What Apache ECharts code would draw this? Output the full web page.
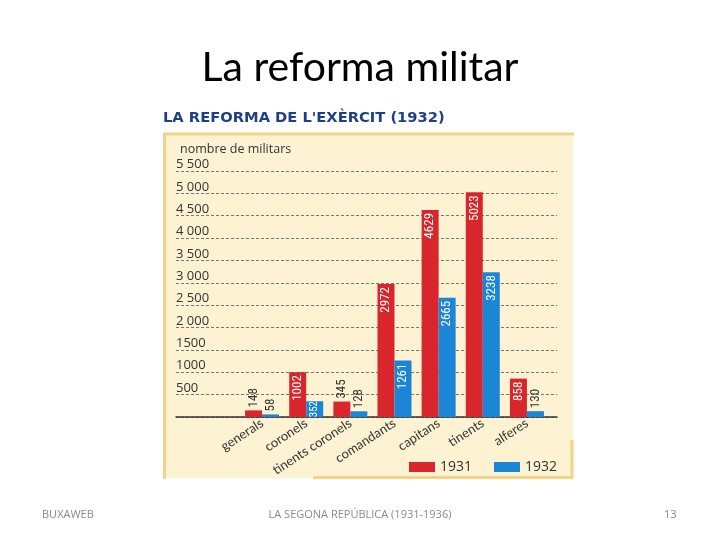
<!DOCTYPE html>
<html>
<head>
<meta charset="utf-8">
<script src="https://cdn.jsdelivr.net/npm/echarts@6/dist/echarts.min.js"></script>
<style>
  html, body { margin: 0; padding: 0; background: #fff; }
  #chart { width: 720px; height: 540px; }
</style>
</head>
<body>
<div id="chart"></div>
<script>
// ranks of the army
const categories = ['generals', 'coronels', 'tinents coronels', 'comandants', 'capitans', 'tinents', 'alferes']
const values1931 = [148, 1002, 345, 2972, 4629, 5023, 858]
const values1932 = [58, 352, 128, 1261, 2665, 3238, 130]
const yTickLabels = ['', '500', '1000', '1500', '2 000', '2 500', '3 000', '3 500', '4 000', '4 500', '5 000', '5 500']

const red = '#d8262c'
const blue = '#1b86d5'
const border = '#f4d387'
const labelFont = '"Liberation Sans Narrow", "Roboto Condensed", "Roboto", sans-serif'

// small values get their label above the bar, short bars centre it, the rest at the top inside
function barData(values) {
  return values.map(function (v) {
    if (v < 350) {
      return { value: v, label: { position: 'top', distance: 3, align: 'left', color: '#333' } }
    }
    if (v < 500) {
      return { value: v, label: { position: 'inside', align: 'center', color: '#fff', fontSize: 11 } }
    }
    return { value: v, label: { position: 'insideTop', distance: 3, align: 'right', color: '#fff' } }
  })
}

let chart = echarts.init(document.getElementById('chart'), null, { renderer: 'canvas' })

let option = {
  animation: false,
  textStyle: { fontFamily: '"Open Sans", sans-serif' },
  title: [{
    text: 'La reforma militar',
    left: 'center',
    top: 42,
    textStyle: { fontFamily: 'Lato, sans-serif', fontSize: 41, fontWeight: 'normal', color: '#000' }
  }, {
    text: 'nombre de militars',
    left: 175,
    top: 138,
    textStyle: { fontSize: 12.5, fontWeight: 'normal', color: '#333' }
  }],
  graphic: [
    { type: 'rect', z: -10, shape: { x: 163, y: 133, width: 410, height: 345 }, style: { fill: '#fdf3d3' } },
    { type: 'line', z: -5, shape: { x1: 164.5, y1: 133, x2: 164.5, y2: 479 }, style: { stroke: border, lineWidth: 3 } },
    { type: 'line', z: -5, shape: { x1: 163, y1: 134, x2: 574, y2: 134 }, style: { stroke: border, lineWidth: 3 } },
    { type: 'line', z: -5, shape: { x1: 572, y1: 440, x2: 572, y2: 479 }, style: { stroke: border, lineWidth: 3 } },
    { type: 'line', z: -5, shape: { x1: 313, y1: 477.5, x2: 573, y2: 477.5 }, style: { stroke: border, lineWidth: 3 } },
    {
      type: 'text', left: 163, top: 111,
      style: { text: "LA REFORMA DE L'EXÈRCIT (1932)", fill: '#1d3f8a', font: 'bold 14.7px "DejaVu Sans", sans-serif' }
    },
    {
      type: 'text', left: 42, top: 509,
      style: { text: 'BUXAWEB', fill: '#8a8a8a', font: '11px "Open Sans", sans-serif' }
    },
    {
      type: 'text', left: 'center', top: 509,
      style: { text: 'LA SEGONA REPÚBLICA (1931-1936)', fill: '#8a8a8a', font: '11px "Open Sans", sans-serif' }
    },
    {
      type: 'text', left: 664, top: 509,
      style: { text: '13', fill: '#8a8a8a', font: '11px "Open Sans", sans-serif' }
    }
  ],
  legend: {
    left: 404,
    top: 455,
    itemWidth: 26,
    itemHeight: 10,
    itemGap: 22,
    icon: 'rect',
    textStyle: { fontSize: 14, color: '#333' },
    data: ['1931', '1932']
  },
  grid: [
    { left: 176, right: 163, top: 171, bottom: 123 },
    { left: 240, right: 171, top: 171, bottom: 123 }
  ],
  xAxis: [{
    gridIndex: 0,
    type: 'value',
    min: 0,
    max: 1,
    axisLine: { show: true, onZero: false, lineStyle: { color: '#333', width: 1.5 } },
    axisTick: { show: false },
    axisLabel: { show: false },
    splitLine: { show: false }
  }, {
    gridIndex: 1,
    type: 'category',
    data: categories,
    axisLine: { show: false },
    axisTick: { show: false },
    axisLabel: {
      interval: 0,
      rotate: 33,
      margin: 5,
      fontSize: 13,
      fontFamily: 'Lato, sans-serif',
      color: '#333'
    }
  }],
  yAxis: [{
    gridIndex: 0,
    type: 'value',
    min: 0,
    max: 5500,
    interval: 500,
    axisLine: { show: false },
    axisTick: { show: false },
    axisLabel: {
      inside: true,
      verticalAlign: 'bottom',
      margin: 0,
      fontSize: 13,
      color: '#333',
      formatter: function (v) { return yTickLabels[Math.round(v / 500)] }
    },
    splitLine: { lineStyle: { color: '#777', type: [3, 2] } }
  }, {
    gridIndex: 1,
    type: 'value',
    min: 0,
    max: 5500,
    show: false
  }],
  series: [{
    name: '1931',
    type: 'bar',
    xAxisIndex: 1,
    yAxisIndex: 1,
    barWidth: 17,
    barGap: '0%',
    itemStyle: { color: red },
    label: { show: true, rotate: 90, verticalAlign: 'middle', fontSize: 13, fontFamily: labelFont },
    data: barData(values1931)
  }, {
    name: '1932',
    type: 'bar',
    xAxisIndex: 1,
    yAxisIndex: 1,
    barWidth: 17,
    barGap: '0%',
    itemStyle: { color: blue },
    label: { show: true, rotate: 90, verticalAlign: 'middle', fontSize: 13, fontFamily: labelFont },
    data: barData(values1932)
  }]
}

chart.setOption(option)
</script>
</body>
</html>
